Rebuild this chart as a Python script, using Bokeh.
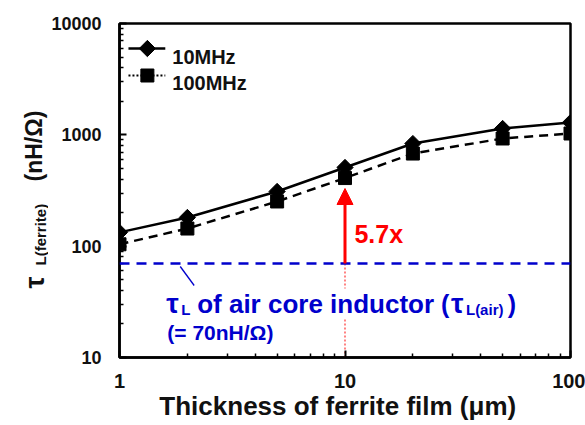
import math
from bokeh.plotting import figure
from bokeh.layouts import row
from bokeh.models import (Range1d, FixedTicker, Label, Span, Arrow, NormalHead,
                          BasicTickFormatter)
from bokeh.embed import file_html
from bokeh.resources import INLINE

# ---- data ----
thickness_um = [1, 2, 5, 10, 20, 50, 100]
tau_10mhz = [133, 181, 310, 509, 835, 1140, 1290]
tau_100mhz = [104, 144, 252, 409, 679, 927, 1028]
tau_air = 70
series_names = ["10MHz", "100MHz"]
x_ticks = [1, 10, 100]
y_ticks = [10, 100, 1000, 10000]
arrow_x = 10
enhancement_text = "5.7x"

# ---- layout ----
W, H = 585, 425
LW = 48                      # width of the strip that carries the y-axis title
BL, BR, BT, BB = 117, 15, 23, 68
X0, X1, Y0, Y1 = 1, 100, 10, 10000
FW, FH = W - BL - BR, H - BT - BB
FONT = "Liberation Sans"
BLUE = "#0000cc"
INK = "#111111"


def dx(px):
    return 10 ** (math.log10(X0) + (px - BL) / FW * (math.log10(X1) - math.log10(X0)))


def dy(py):
    return 10 ** (math.log10(Y0) + (H - BB - py) / FH * (math.log10(Y1) - math.log10(Y0)))


# ---------- strip with the rotated y-axis title (frame aligned with main frame) ----------
lab = figure(width=LW, height=H, x_range=Range1d(0, LW), y_range=Range1d(BB, H - BT),
             output_backend="svg", toolbar_location=None,
             x_axis_location=None, y_axis_location=None,
             min_border=0, min_border_left=0, min_border_right=0,
             min_border_top=BT, min_border_bottom=BB)
lab.outline_line_color = None
lab.xgrid.visible = False
lab.ygrid.visible = False
lab.background_fill_color = "white"
lab.border_fill_color = "white"


def ltxt(text, px, py, size):
    lab.add_layout(Label(x=px, y=H - py, text=text, text_font=FONT,
                         text_font_style="bold", text_font_size=f"{size}px",
                         text_color=INK, angle=math.pi / 2, text_align="left",
                         text_baseline="alphabetic"))


ltxt("τ", 34, 288, 27)
ltxt("L(ferrite)", 40, 265, 15)
ltxt("(nH/Ω)", 33, 181, 23)

# ---------- main plot ----------
p = figure(width=W - LW, height=H, x_axis_type="log", y_axis_type="log",
           x_range=Range1d(X0, X1), y_range=Range1d(Y0, Y1),
           output_backend="svg", toolbar_location=None,
           min_border_left=BL - LW, min_border_right=BR,
           min_border_top=BT, min_border_bottom=BB)
p.background_fill_color = "white"
p.border_fill_color = "white"
p.xgrid.visible = False
p.ygrid.visible = False
p.outline_line_color = "black"
p.outline_line_width = 2.5
p.outline_line_alpha = 1

p.xaxis.ticker = FixedTicker(ticks=x_ticks,
                             minor_ticks=[m * d for d in (1, 10) for m in range(2, 10)])
p.yaxis.ticker = FixedTicker(ticks=y_ticks,
                             minor_ticks=[m * d for d in (10, 100, 1000) for m in range(2, 10)])
for ax in (p.xaxis[0], p.yaxis[0]):
    ax.formatter = BasicTickFormatter(use_scientific=False)
    ax.axis_line_width = 2.5
    ax.axis_line_color = "black"
    ax.major_tick_in = 7
    ax.major_tick_out = 0
    ax.minor_tick_in = 4
    ax.minor_tick_out = 0
    ax.major_tick_line_width = 2
    ax.minor_tick_line_width = 1.5
    ax.major_tick_line_color = "black"
    ax.minor_tick_line_color = "black"
    ax.major_label_text_font = FONT
    ax.major_label_text_font_style = "bold"
    ax.major_label_text_color = INK
p.yaxis.major_label_text_font_size = "18px"
p.yaxis.major_label_standoff = 18
p.xaxis.major_label_text_font_size = "20px"
p.xaxis.major_label_standoff = 16
p.xaxis.axis_label = "Thickness of ferrite film (μm)\u00a0\u00a0"
p.xaxis.axis_label_text_font = FONT
p.xaxis.axis_label_text_font_style = "bold"
p.xaxis.axis_label_text_font_size = "26px"
p.xaxis.axis_label_text_color = INK
p.xaxis.axis_label_standoff = 0

# reference lines under the data
p.segment(x0=[arrow_x], y0=[Y0], x1=[arrow_x], y1=[tau_air],
          line_color="#ff3030", line_width=1.2, line_dash="2 2")
p.add_layout(Span(location=tau_air, dimension="width", line_color=BLUE,
                  line_width=2.5, line_dash="10 7"))
p.segment(x0=[dx(178)], y0=[dy(266)], x1=[dx(192)], y1=[dy(285)],
          line_color=BLUE, line_width=1.3)

# data series
p.line(thickness_um, tau_10mhz, line_color="black", line_width=2.5)
p.scatter(thickness_um, tau_10mhz, marker="square", angle=math.pi / 4,
          size=11.5, fill_color="black", line_color="black")
p.line(thickness_um, tau_100mhz, line_color="black", line_width=2.5, line_dash="9 6")
p.scatter(thickness_um, tau_100mhz, marker="square", size=13,
          fill_color="black", line_color="black")

# legend keys
p.segment(x0=[dx(126)], y0=[dy(48)], x1=[dx(163)], y1=[dy(48)],
          line_color="black", line_width=2.5)
p.scatter([dx(145)], [dy(48)], marker="square", angle=math.pi / 4, size=11.5,
          fill_color="black", line_color="black")
p.segment(x0=[dx(126)], y0=[dy(75)], x1=[dx(163)], y1=[dy(75)],
          line_color="black", line_width=2, line_dash="2 2")
p.scatter([dx(145)], [dy(75)], marker="square", size=13,
          fill_color="black", line_color="black")

p.add_layout(Arrow(end=NormalHead(size=16, fill_color="red", line_color="red", line_width=1),
                   x_start=arrow_x, y_start=tau_air, x_end=arrow_x, y_end=dy(188),
                   line_color="red", line_width=3))


def txt(text, px, py, size, color=INK, align="left", **kw):
    p.add_layout(Label(x=dx(px), y=dy(py), text=text, text_font=FONT,
                       text_font_style="bold", text_font_size=f"{size}px",
                       text_color=color, text_align=align,
                       text_baseline="alphabetic", **kw))


txt(series_names[0], 170, 56, 20)
txt(series_names[1], 170, 82, 20)

# blue annotation
txt("τ", 164, 303, 28, BLUE)
txt("L", 179, 309, 15, BLUE)
txt("of air core inductor", 195, 303, 26, BLUE, background_fill_color="white")
txt("(", 440, 303, 25, BLUE)
txt("τ", 450, 303, 28, BLUE)
txt("L(air)", 465, 309, 15, BLUE)
txt(")", 507, 303, 25, BLUE)
txt("(= 70nH/Ω)", 165, 332, 21, BLUE)

# enhancement
txt(enhancement_text, 353, 233, 25, "red")

open("out.html", "w").write(file_html(row(lab, p), INLINE))
